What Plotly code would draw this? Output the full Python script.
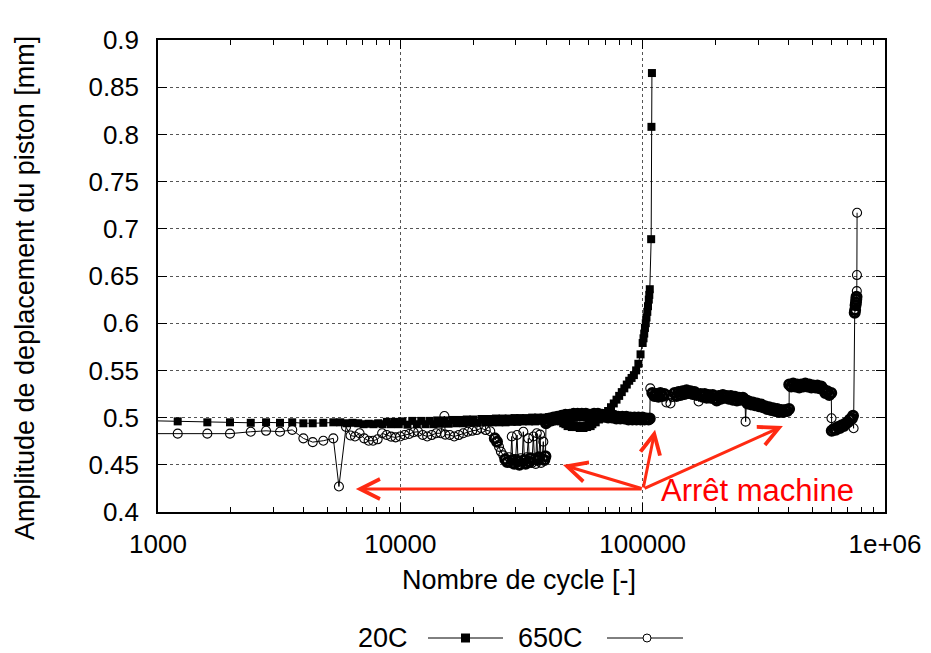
import numpy as np
import plotly.graph_objects as go

# ---------------- data ----------------
cycles_20C = [800, 1206, 1598, 1982, 2414, 2792, 3188, 3580, 3980, 4350,
              4810, 5290, 5650, 6000, 6350, 6700, 7050, 7400, 7750, 8100,
              8450, 8800, 9150, 9500, 9850, 10200, 10700, 11200, 11700, 12200,
              12700, 13200, 13700, 14200, 14700, 15200, 15800, 16400, 17000, 17600,
              18200, 18800, 19400, 20000, 20800, 21600, 22400, 23200, 24000, 24800,
              25600, 26400, 27200, 28000, 28800, 29600, 30400, 31200, 32000, 33000,
              34000, 35000, 36000, 37000, 38000, 39000, 40000, 41000, 42000, 43000,
              44000, 45000, 46000, 47000, 48000, 49000, 50000, 51000, 52000, 53000,
              54000, 55000, 56000, 57000, 58000, 59000, 60000, 61000, 62000, 64000,
              66000, 68000, 70000, 72000, 74000, 76000, 78000, 80000, 82000, 84000,
              86000, 88000, 90000, 92000, 94000, 96000, 98000, 100000, 100800, 101500,
              102200, 103000, 103700, 104500, 105200, 106000, 106500, 107000, 108400, 108700,
              109200]
amp_20C = [0.497, 0.496, 0.495, 0.495, 0.4945, 0.495, 0.4945, 0.495, 0.494, 0.494,
           0.4945, 0.495, 0.495, 0.494, 0.4945, 0.494, 0.493, 0.4935, 0.493, 0.494,
           0.493, 0.4955, 0.493, 0.4955, 0.493, 0.496, 0.4925, 0.4965, 0.493, 0.4965,
           0.493, 0.4965, 0.493, 0.497, 0.4935, 0.497, 0.4935, 0.4975, 0.494, 0.4975,
           0.494, 0.498, 0.4945, 0.498, 0.4945, 0.4985, 0.495, 0.4985, 0.495, 0.499,
           0.495, 0.499, 0.495, 0.499, 0.4955, 0.4995, 0.4955, 0.4995, 0.496, 0.4995,
           0.496, 0.5, 0.496, 0.5, 0.4965, 0.5, 0.497, 0.5005, 0.497, 0.5,
           0.5, 0.497, 0.496, 0.494, 0.493, 0.491, 0.492, 0.49, 0.492, 0.49,
           0.491, 0.489, 0.491, 0.489, 0.491, 0.49, 0.492, 0.491, 0.493, 0.495,
           0.498, 0.501, 0.504, 0.507, 0.511, 0.515, 0.519, 0.523, 0.527, 0.531,
           0.535, 0.539, 0.542, 0.545, 0.55, 0.557, 0.567, 0.579, 0.584, 0.589,
           0.595, 0.6, 0.606, 0.612, 0.618, 0.625, 0.63, 0.636, 0.689, 0.808,
           0.865]

cycles_650C = [800, 1206, 1598, 1982, 2414, 2792, 3188, 3580, 3980, 4350,
               4810, 5290, 5580, 5970, 6230, 6500, 6790, 7090, 7400, 7720,
               8060, 8410, 8780, 9160, 9560, 9980, 10420, 10880, 11350, 11850,
               12370, 12910, 13470, 14060, 14680, 15200, 15320, 15990, 16690, 17420,
               18180, 18970, 19800, 20670, 21570, 22510, 23500, 24530, 25060, 25540,
               26000, 26600, 27100, 27600, 28100, 28500, 28830, 29100, 29500, 29900,
               30310, 30600, 31000, 31400, 31800, 32180, 32500, 32900, 33300, 33740,
               34100, 34500, 34900, 35400, 35800, 36200, 36560, 36900, 37300, 37720,
               38100, 38500, 38900, 39300, 39700, 39920, 40400, 41200, 42000, 42800,
               43600, 44400, 45300, 46200, 47100, 48000, 48900, 49900, 50900, 51900,
               52900, 53900, 55000, 56100, 57200, 58300, 59400, 60600, 61800, 63000,
               64200, 65400, 66700, 68000, 69300, 70600, 72000, 73400, 74800, 76300,
               77800, 79300, 80800, 82400, 84000, 85600, 87300, 89000, 90700, 92500,
               94300, 96100, 98000, 99900, 101800, 103800, 105800, 107000, 107500, 109600,
               111700, 113900, 116100, 118300, 120600, 122900, 125300, 127700, 130200, 132700,
               135300, 137900, 140600, 143300, 146100, 148900, 151800, 154700, 157700, 160700,
               163800, 167000, 170200, 173500, 176900, 180300, 183800, 187300, 190900, 194600,
               198400, 202200, 206100, 210100, 214200, 218300, 222500, 226800, 231200, 235700,
               240300, 244900, 249600, 254400, 259300, 264300, 266000, 268000, 271000, 274600,
               279900, 285300, 290800, 296400, 302100, 308000, 313900, 320000, 326200, 332500,
               338900, 345500, 352200, 359000, 365900, 373000, 380200, 387500, 395000, 402000,
               402500, 410000, 418000, 426000, 434000, 442500, 451000, 460000, 469000, 478000,
               487000, 496500, 506000, 516000, 526000, 536000, 546000, 556500, 567000, 578000,
               589000, 600000, 601500, 603000, 614600, 626500, 638600, 650900, 663500, 676300,
               689300, 702600, 716200, 730000, 738000, 742000, 750000, 753000, 756000, 759000,
               761000, 763000, 765000, 766000, 767000]
amp_650C = [0.483, 0.483, 0.483, 0.483, 0.485, 0.486, 0.485, 0.487, 0.478, 0.474,
            0.4755, 0.478, 0.427, 0.490, 0.481, 0.480, 0.4834, 0.478, 0.4755, 0.4755,
            0.477, 0.4834, 0.4816, 0.4798, 0.479, 0.480, 0.4816, 0.4826, 0.4845, 0.485,
            0.4816, 0.480, 0.4815, 0.4834, 0.4834, 0.5017, 0.482, 0.4816, 0.480, 0.4815,
            0.4834, 0.485, 0.486, 0.4868, 0.4887, 0.4868, 0.4855, 0.478, 0.4745, 0.469,
            0.464, 0.460, 0.456, 0.453, 0.458, 0.452, 0.480, 0.455, 0.451, 0.456,
            0.4816, 0.454, 0.450, 0.457, 0.452, 0.485, 0.455, 0.451, 0.458, 0.478,
            0.453, 0.457, 0.452, 0.480, 0.456, 0.451, 0.4834, 0.455, 0.458, 0.482,
            0.452, 0.457, 0.4745, 0.455, 0.459, 0.494, 0.496, 0.499, 0.497, 0.500,
            0.498, 0.501, 0.499, 0.502, 0.500, 0.503, 0.501, 0.503, 0.501, 0.504,
            0.502, 0.504, 0.502, 0.504, 0.502, 0.504, 0.501, 0.503, 0.501, 0.504,
            0.502, 0.504, 0.501, 0.503, 0.501, 0.503, 0.500, 0.502, 0.500, 0.502,
            0.499, 0.501, 0.499, 0.501, 0.499, 0.501, 0.498, 0.500, 0.498, 0.500,
            0.498, 0.500, 0.498, 0.500, 0.498, 0.499, 0.498, 0.499, 0.531, 0.526,
            0.523, 0.525, 0.522, 0.526, 0.523, 0.525, 0.516, 0.524, 0.515, 0.522,
            0.526, 0.523, 0.527, 0.524, 0.528, 0.525, 0.529, 0.526, 0.528, 0.525,
            0.527, 0.524, 0.517, 0.525, 0.522, 0.525, 0.521, 0.524, 0.521, 0.524,
            0.520, 0.518, 0.523, 0.520, 0.524, 0.521, 0.523, 0.520, 0.523, 0.519,
            0.522, 0.518, 0.521, 0.519, 0.521, 0.519, 0.4957, 0.518, 0.515, 0.517,
            0.514, 0.516, 0.513, 0.515, 0.512, 0.514, 0.511, 0.512, 0.509, 0.511,
            0.508, 0.510, 0.507, 0.509, 0.506, 0.508, 0.506, 0.508, 0.507, 0.509,
            0.535, 0.533, 0.536, 0.533, 0.535, 0.532, 0.535, 0.533, 0.536, 0.533,
            0.535, 0.532, 0.534, 0.532, 0.534, 0.531, 0.533, 0.530, 0.526, 0.528,
            0.524, 0.526, 0.4993, 0.486, 0.488, 0.487, 0.490, 0.489, 0.492, 0.491,
            0.494, 0.495, 0.498, 0.499, 0.502, 0.4887, 0.611, 0.614, 0.619, 0.622,
            0.625, 0.628, 0.634, 0.651, 0.717]

x_tick_vals = [1000, 10000, 100000, 1000000]
x_tick_text = ["1000", "10000", "100000", "1e+06"]
x_minor_vals = [2000, 3000, 4000, 5000, 6000, 7000, 8000, 9000,
                20000, 30000, 40000, 50000, 60000, 70000, 80000, 90000,
                200000, 300000, 400000, 500000, 600000, 700000, 800000, 900000]
y_tick_vals = [0.4, 0.45, 0.5, 0.55, 0.6, 0.65, 0.7, 0.75, 0.8, 0.85, 0.9]
y_tick_text = ["0.4", "0.45", "0.5", "0.55", "0.6", "0.65", "0.7", "0.75", "0.8", "0.85", "0.9"]

series_names = ["20C", "650C"]
x_title = "Nombre de cycle [-]"
y_title = "Amplitude de deplacement du piston [mm]"

note_text = "Arrêt machine"
arrow_tail = (100400, 0.4244)
arrow_heads = [(6550, 0.4244), (46900, 0.4498), (112500, 0.487), (379000, 0.491)]
note_pos = (117000, 0.4232)

assert len(cycles_20C) == len(amp_20C)
assert len(cycles_650C) == len(amp_650C)

# ---------------- geometry ----------------
FONT = "Liberation Sans, Arial, Helvetica, sans-serif"
ARROW_RED = "#ff2a12"
OFF = 8                       # page body margin of the html page
W, H = 923, 645               # figure size (fits the 931x653 window with the body margin)
L, T = 150, 32
PW, PH = 727, 472
R, B = W - L - PW, H - T - PH


def px(sx):
    """screen x (window pixels) -> paper x"""
    return (sx - OFF - L) / PW


def py(sy):
    """screen y (window pixels) -> paper y"""
    return (T + PH - (sy - OFF)) / PH


def ring_widths(xs, ys):
    """open circles drawn where data are dense get a heavier ring so the band looks solid"""
    lx = np.log10(np.asarray(xs, float)) * PW / 3.0
    yy = np.asarray(ys, float) * PH / 0.5
    d = np.hypot(np.diff(lx), np.diff(yy))
    local = np.minimum(np.r_[np.inf, d], np.r_[d, np.inf])
    return np.where(local < 4.2, 3.0, 1.1)


fig = go.Figure()
fig.add_trace(go.Scatter(
    x=cycles_20C, y=amp_20C, mode="lines+markers", name=series_names[0],
    line=dict(color="black", width=1),
    marker=dict(symbol="square", size=8, color="black", line=dict(width=0)),
    cliponaxis=True, showlegend=False))
fig.add_trace(go.Scatter(
    x=cycles_650C, y=amp_650C, mode="lines+markers", name=series_names[1],
    line=dict(color="black", width=1),
    marker=dict(symbol="circle-open", size=9, color="black",
                line=dict(width=ring_widths(cycles_650C, amp_650C), color="black")),
    cliponaxis=True, showlegend=False))

fig.update_layout(
    width=W, height=H,
    margin=dict(l=L, r=R, t=T, b=B, autoexpand=False),
    paper_bgcolor="white", plot_bgcolor="white",
    font=dict(family=FONT, size=26, color="black"),
    showlegend=False,
)

fig.update_xaxes(
    type="log", range=[3, 6],
    tickvals=x_tick_vals, ticktext=x_tick_text,
    ticks="inside", ticklen=9, tickwidth=1, tickcolor="black",
    showline=True, linecolor="black", linewidth=1.5, mirror="ticks",
    showgrid=True, gridcolor="#555555", griddash="dot", gridwidth=1,
    minor=dict(tickvals=x_minor_vals, ticks="inside", ticklen=5, tickwidth=1,
               tickcolor="black", showgrid=False),
    tickfont=dict(size=26, family=FONT, color="black"),
    ticklabelstandoff=8, zeroline=False,
)
fig.update_yaxes(
    range=[0.4, 0.9],
    tickvals=y_tick_vals, ticktext=y_tick_text,
    ticks="inside", ticklen=9, tickwidth=1, tickcolor="black",
    showline=True, linecolor="black", linewidth=1.5, mirror="ticks",
    showgrid=True, gridcolor="#555555", griddash="dot", gridwidth=1,
    tickfont=dict(size=26, family=FONT, color="black"),
    ticklabelstandoff=12, zeroline=False,
)

# axis titles
fig.add_annotation(text=x_title, xref="paper", yref="paper", x=px(519), y=py(580),
                   xanchor="center", yanchor="middle", showarrow=False,
                   font=dict(size=27, family=FONT, color="black"))
fig.add_annotation(text=y_title, xref="paper", yref="paper", x=px(25), y=py(288),
                   xanchor="center", yanchor="middle", textangle=-90, showarrow=False,
                   font=dict(size=27, family=FONT, color="black"))

# arrows "Arrêt machine"
for hx, hy in arrow_heads:
    fig.add_annotation(x=np.log10(hx), y=hy, ax=np.log10(arrow_tail[0]), ay=arrow_tail[1],
                       xref="x", yref="y", axref="x", ayref="y", text="",
                       showarrow=True, arrowhead=5, arrowsize=1.3, arrowwidth=3,
                       arrowcolor=ARROW_RED, standoff=0, startstandoff=0)
fig.add_annotation(x=np.log10(note_pos[0]), y=note_pos[1], xref="x", yref="y",
                   text=note_text, showarrow=False, xanchor="left", yanchor="middle",
                   font=dict(size=31, family=FONT, color="#ff0000"))

# custom legend (label before sample, gnuplot style)
leg_y = py(638)
fig.add_annotation(text=series_names[0], xref="paper", yref="paper", x=px(383), y=leg_y,
                   xanchor="center", yanchor="middle", showarrow=False,
                   font=dict(size=27, family=FONT, color="black"))
fig.add_annotation(text=series_names[1], xref="paper", yref="paper", x=px(550), y=leg_y,
                   xanchor="center", yanchor="middle", showarrow=False,
                   font=dict(size=27, family=FONT, color="black"))
fig.add_shape(type="line", xref="paper", yref="paper", x0=px(428), x1=px(503),
              y0=leg_y, y1=leg_y, line=dict(color="black", width=1))
fig.add_shape(type="rect", xref="paper", yref="paper", x0=px(461), x1=px(470),
              y0=py(642.5), y1=py(633.5), fillcolor="black", line=dict(width=0))
fig.add_shape(type="line", xref="paper", yref="paper", x0=px(607), x1=px(683),
              y0=leg_y, y1=leg_y, line=dict(color="black", width=1))
fig.add_shape(type="circle", xref="paper", yref="paper", x0=px(643), x1=px(651),
              y0=py(642), y1=py(634), fillcolor="white", line=dict(color="black", width=1))

fig.write_html("out.html")
